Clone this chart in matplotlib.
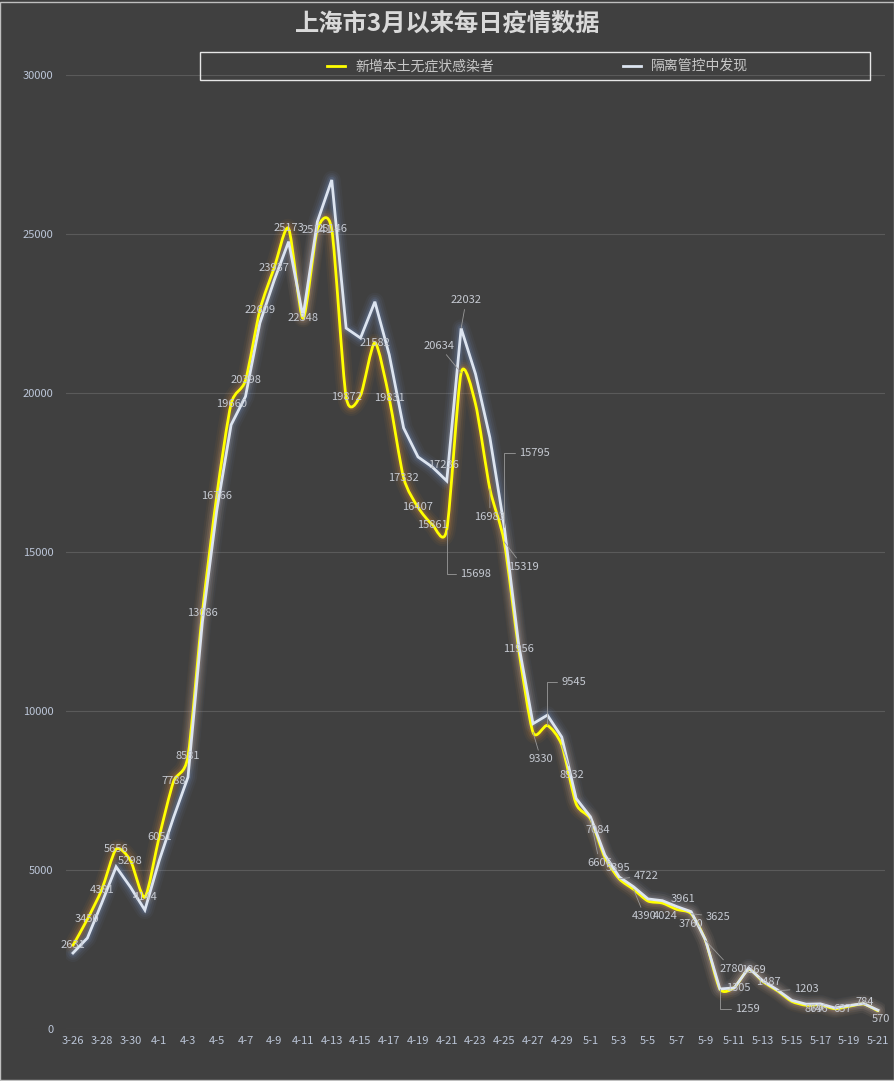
import numpy as np
import pandas as pd
import matplotlib.pyplot as plt
from matplotlib.path import Path
from matplotlib.patches import PathPatch, Rectangle
from matplotlib.lines import Line2D

plt.rcParams['font.family'] = ['Noto Sans CJK SC', 'DejaVu Sans']

# categories: 3-26 ... 5-21
dates = [f"{d.month}-{d.day}" for d in pd.date_range('2022-03-26', '2022-05-21')]

# 新增本土无症状感染者
asymptomatic = [2631, 3450, 4381, 5656, 5298, 4144, 6051, 7788, 8581, 13086,
                16766, 19660, 20398, 22609, 23937, 25173, 22348, 25141, 25146, 19872,
                19923, 21582, 19831, 17332, 16407, 15861, 15698, 20634, 19657, 16983,
                15319, 11956, 9330, 9545, 8932, 7084, 6606, 5395, 4722, 4390,
                4024, 3961, 3760, 3625, 2780, 1259, 1305, 1869, 1487, 1203,
                869, 746, 759, 637, 715, 784, 570]

# 隔离管控中发现
quarantine = [2390, 2860, 3960, 5100, 4460, 3740, 5300, 6660, 7920, 12800,
              16300, 19000, 19890, 22200, 23550, 24760, 22400, 25390, 26700, 22040,
              21730, 22870, 21200, 18900, 17990, 17670, 17236, 22032, 20600, 18600,
              15795, 12100, 9600, 9870, 9180, 7250, 6670, 5470, 4780, 4470,
              4090, 4035, 3850, 3690, 2800, 1260, 1290, 1920, 1510, 1230,
              900, 780, 790, 660, 740, 800, 590]

# data labels: (series, index, dx px, dy px, leader)  leader: None / 'line' / 'elbow'
label_specs = [('Y', i, 0, 0, None) for i in list(range(0, 20)) + [21, 22, 23, 24, 25, 31]]
label_specs += [
    ('Y', 26, 29, -44, 'elbow'),
    ('W', 26, -3, 16, None),
    ('Y', 27, -22, 27, 'line'),
    ('W', 27, 5, 28, 'line'),
    ('Y', 29, 0, -28, 'line'),
    ('W', 30, 30, 74, 'elbow'),
    ('Y', 30, 19, -25, 'line'),
    ('Y', 32, 8, -27, 'line'),
    ('Y', 33, 26, 43, 'elbow'),
    ('Y', 34, 10, -30, 'line'),
    ('Y', 35, 22, -26, None),
    ('Y', 36, 9, -44, 'line'),
    ('Y', 37, 13, -11, None),
    ('Y', 38, 27, 3, 'line'),
    ('Y', 39, 11, -27, 'line'),
    ('Y', 40, 17, -15, None),
    ('Y', 41, 21, 4, None),
    ('Y', 42, 14, -15, None),
    ('Y', 43, 27, -3, 'line'),
    ('Y', 44, 26, -28, 'line'),
    ('Y', 45, 28, -20, 'elbow'),
    ('Y', 46, 4, 0, None),
    ('Y', 47, 5, 0, None),
    ('Y', 48, 5, 0, None),
    ('Y', 49, 29, 2, 'line'),
    ('Y', 50, 22, -8, None),
    ('Y', 51, 13, -4, None),
    ('Y', 53, 8, 0, None),
    ('Y', 55, 1, 2, None),
    ('Y', 56, 3, -8, None),
]

BG = '#404040'
TXT = '#c6cad2'


def smooth_path(xs, ys, k=0.12):
    # Excel style smoothed line: bezier segments, catmull-rom like control points
    pts = np.column_stack([xs, ys]).astype(float)
    n = len(pts)
    verts = [pts[0]]
    codes = [Path.MOVETO]
    for i in range(n - 1):
        p0 = pts[max(i - 1, 0)]
        p1 = pts[i]
        p2 = pts[i + 1]
        p3 = pts[min(i + 2, n - 1)]
        verts += [p1 + (p2 - p0) * k, p2 - (p3 - p1) * k, p2]
        codes += [Path.CURVE4] * 3
    return Path(verts, codes)


fig = plt.figure(figsize=(8.95, 10.81), dpi=100, facecolor=BG)
ax = fig.add_axes([65.8 / 895, 1 - 1029 / 1081, 819.4 / 895, 954 / 1081])
ax.set_facecolor(BG)

x = np.arange(len(dates))
ypath = smooth_path(x, asymptomatic)

# glow
for lw, a in [(13, 0.05), (10, 0.07), (7, 0.10), (4.5, 0.16)]:
    ax.add_patch(PathPatch(ypath, fill=False, ec='#e8923a', lw=lw, alpha=a,
                           joinstyle='round', capstyle='round', zorder=2))
    ax.plot(x, quarantine, color='#7f9fd6', lw=lw, alpha=a,
            solid_joinstyle='round', solid_capstyle='round', zorder=2)

ax.add_patch(PathPatch(ypath, fill=False, ec='#ffff00', lw=2.0,
                       joinstyle='round', capstyle='round', zorder=3))
ax.plot(x, quarantine, color='#dce4f0', lw=2.0, solid_joinstyle='miter', zorder=4)

ax.set_xlim(-0.5, len(dates) - 0.5)
ax.set_ylim(0, 30000)
ax.set_yticks(np.arange(0, 30001, 5000))
ax.set_xticks(x[::2])
ax.set_xticklabels(dates[::2])
ax.tick_params(axis='both', length=0, labelsize=8, labelcolor='#bcc6d8')
ax.tick_params(axis='y', pad=9)
ax.tick_params(axis='x', pad=5)
ax.grid(axis='y', color='#5a5a5a', lw=0.8)
ax.set_axisbelow(True)
for s in ax.spines.values():
    s.set_visible(False)

series = {'Y': asymptomatic, 'W': quarantine}
for key, i, dx, dy, leader in label_specs:
    v = series[key][i]
    kw = {}
    if leader == 'line':
        kw['arrowprops'] = dict(arrowstyle='-', color='#9a9a9a', lw=0.6, shrinkA=1, shrinkB=0)
    elif leader == 'elbow':
        kw['arrowprops'] = dict(arrowstyle='-', color='#9a9a9a', lw=0.6, shrinkA=1, shrinkB=0,
                                connectionstyle='angle,angleA=0,angleB=90,rad=0')
    ax.annotate(str(v), xy=(i, v), xytext=(dx, dy), textcoords='offset pixels',
                ha='center', va='center', fontsize=8, color=TXT, zorder=6,
                annotation_clip=False, **kw)

# title
fig.text(448 / 895, 1 - 25 / 1081, '上海市3月以来每日疫情数据', ha='center', va='center',
         fontsize=17.5, fontweight='bold', color='#d9d9d9')

# legend box
fig.patches.append(Rectangle((200 / 895, 1 - 80 / 1081), 670 / 895, 28 / 1081,
                             transform=fig.transFigure, fill=False, ec='#e6e6e6', lw=1))
ly = 1 - 66 / 1081
fig.lines.append(Line2D([327 / 895, 345 / 895], [ly, ly], transform=fig.transFigure,
                        color='#ffff00', lw=2))
fig.text(355 / 895, ly, '新增本土无症状感染者', ha='left', va='center', fontsize=10, color='#c8c8c8')
fig.lines.append(Line2D([623 / 895, 641 / 895], [ly, ly], transform=fig.transFigure,
                        color='#dce4f0', lw=2))
fig.text(651 / 895, ly, '隔离管控中发现', ha='left', va='center', fontsize=10, color='#c8c8c8')

# outer border
fig.patches.append(Rectangle((0.0005, 0.0005), 0.998, 0.998, transform=fig.transFigure,
                             fill=False, ec='#bfbfbf', lw=1))

fig.savefig('out.png', dpi=100, facecolor=BG)
